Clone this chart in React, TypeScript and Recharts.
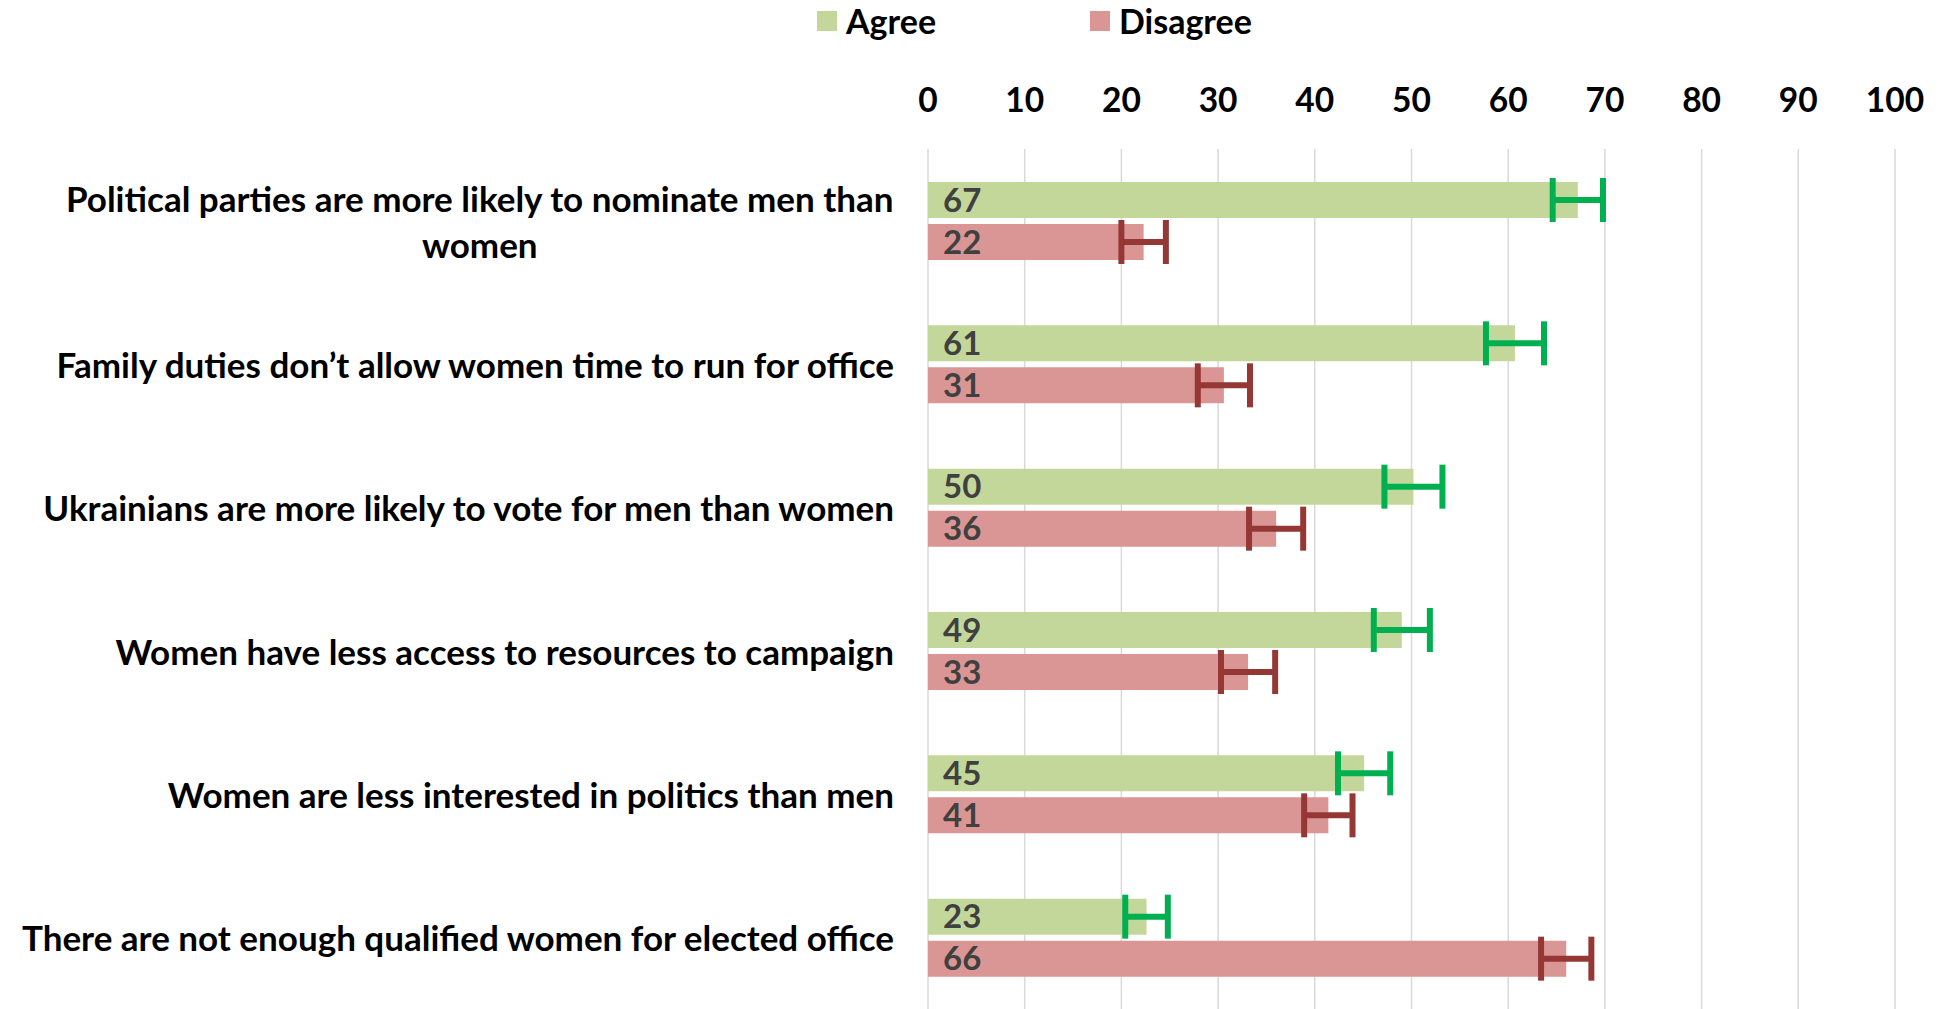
import * as React from "react";
import { Bar, BarChart, CartesianGrid, ErrorBar, LabelList, Legend, XAxis, YAxis } from "recharts";

const categories = [
  "Political parties are more likely to nominate men than\nwomen",
  "Family duties don\u2019t allow women time to run for office",
  "Ukrainians are more likely to vote for men than women",
  "Women have less access to resources to campaign",
  "Women are less interested in politics than men",
  "There are not enough qualified women for elected office",
];
const agree = [67.2, 60.7, 50.2, 49.0, 45.1, 22.6];
const disagree = [22.3, 30.6, 36.0, 33.1, 41.4, 66.0];
const agreeErr = [2.6, 3.0, 3.0, 2.9, 2.7, 2.2];
const disagreeErr = [2.3, 2.7, 2.8, 2.8, 2.5, 2.6];
const xTicks = [0, 10, 20, 30, 40, 50, 60, 70, 80, 90, 100];

const data = categories.map((category, i) => ({
  category,
  agree: agree[i],
  disagree: disagree[i],
  agreeErr: agreeErr[i],
  disagreeErr: disagreeErr[i],
}));

const FONT = "Lato, 'Open Sans', sans-serif";
const CAT_SIZE = 35;

function CategoryTick({ y, payload }: any) {
  const lines = String(payload.value).split("\n");
  if (lines.length === 1) {
    return (
      <text x={894} y={y} textAnchor="end" dominantBaseline="central" fontSize={CAT_SIZE} fontWeight={700} fill="#000" fontFamily={FONT}>
        {lines[0]}
      </text>
    );
  }
  // wrapped label: lines centred on the widest line, block right-aligned
  let w = 840;
  if (typeof document !== "undefined") {
    const ctx = document.createElement("canvas").getContext("2d");
    if (ctx) {
      ctx.font = `700 ${CAT_SIZE}px ${FONT}`;
      w = Math.max(...lines.map((l) => ctx.measureText(l).width));
    }
  }
  const cx = 894 - w / 2;
  const lh = 46;
  const top = y - ((lines.length - 1) * lh) / 2;
  return (
    <text textAnchor="middle" dominantBaseline="central" fontSize={CAT_SIZE} fontWeight={700} fill="#000" fontFamily={FONT}>
      {lines.map((l, i) => (
        <tspan key={i} x={cx} y={top + i * lh}>
          {l}
        </tspan>
      ))}
    </text>
  );
}

function ValueTick({ x, payload }: any) {
  return (
    <text x={x} y={99} textAnchor="middle" dominantBaseline="central" fontSize={33.5} fontWeight={700} fill="#000" fontFamily={FONT}>
      {payload.value}
    </text>
  );
}

function LegendBox({ payload }: any) {
  const lefts = [817, 1090];
  return (
    <div style={{ position: "relative", width: 1941, height: 50 }}>
      {(payload || []).map((p: any, i: number) => (
        <div key={p.value} style={{ position: "absolute", left: lefts[i], top: 1, display: "flex", alignItems: "center" }}>
          <span style={{ width: 20, height: 20, background: p.color, display: "inline-block", marginRight: 9 }} />
          <span style={{ fontFamily: FONT, fontWeight: 700, fontSize: 34, color: "#000", lineHeight: "40px" }}>{p.value}</span>
        </div>
      ))}
    </div>
  );
}

const labelStyle = { fontFamily: FONT, fontSize: 33, fontWeight: 700, fill: "#404040" };

export default function App() {
  return (
    <div style={{ width: 1941, height: 1009, background: "#fff", fontFamily: FONT }}>
      <style>{`body{margin:0}`}</style>
      <BarChart
        width={1941}
        height={1009}
        data={data}
        layout="vertical"
        barSize={36}
        barGap={6}
        margin={{ top: 0, right: 46, bottom: 0, left: 0 }}
      >
        <Legend verticalAlign="top" align="left" height={50} wrapperStyle={{ top: 0, left: 0, width: 1941, height: 50 }} content={<LegendBox />} />
        <CartesianGrid horizontal={false} stroke="#D9D9D9" strokeWidth={1.5} />
        <XAxis
          type="number"
          orientation="top"
          domain={[0, 100]}
          ticks={xTicks}
          interval={0}
          axisLine={false}
          tickLine={false}
          height={99}
          tick={<ValueTick />}
        />
        <YAxis type="category" dataKey="category" width={928} axisLine={false} tickLine={false} interval={0} tick={<CategoryTick />} />
        <Bar dataKey="agree" name="Agree" fill="#C4D79B" isAnimationActive={false}>
          <ErrorBar dataKey="agreeErr" direction="x" width={22} strokeWidth={6} stroke="#00B050" />
          <LabelList dataKey="agree" position="insideLeft" offset={15} formatter={(v: any) => Math.round(Number(v))} style={labelStyle} />
        </Bar>
        <Bar dataKey="disagree" name="Disagree" fill="#DA9694" isAnimationActive={false}>
          <ErrorBar dataKey="disagreeErr" direction="x" width={22} strokeWidth={6} stroke="#953735" />
          <LabelList dataKey="disagree" position="insideLeft" offset={15} formatter={(v: any) => Math.round(Number(v))} style={labelStyle} />
        </Bar>
      </BarChart>
    </div>
  );
}
